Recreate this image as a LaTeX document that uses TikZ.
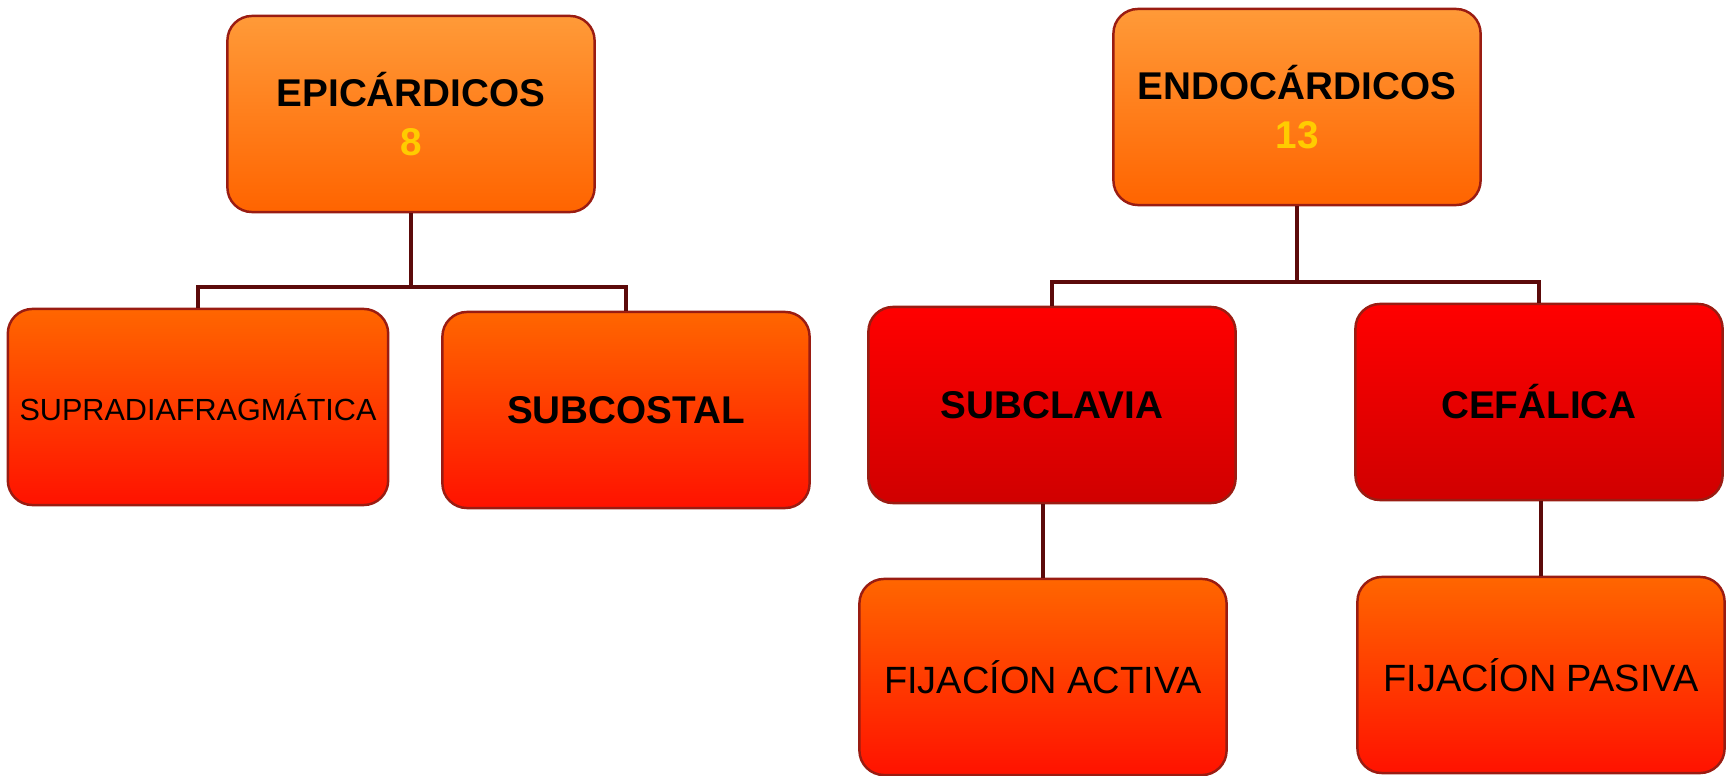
\documentclass[tikz,border=0pt]{standalone}
\usepackage{fontspec}
\setmainfont{Liberation Sans}
\usetikzlibrary{positioning, calc}

\definecolor{boxline}{HTML}{9A1C12}
\definecolor{linkcol}{HTML}{5C0A0A}
\definecolor{numcol}{HTML}{FFCC00}
\definecolor{orangeA}{HTML}{FF9A38}
\definecolor{orangeB}{HTML}{FF6400}
\definecolor{redA}{HTML}{FF0000}
\definecolor{redB}{HTML}{D00000}
\definecolor{flameA}{HTML}{FF6600}
\definecolor{flameB}{HTML}{FF1200}

\begin{document}
\begin{tikzpicture}[
  x=0.01cm, y=-0.01cm,
  font=\fontsize{11}{13.7}\selectfont\bfseries,
  box/.style={draw=boxline, line width=0.7pt, rounded corners=7pt,
              minimum width=3.67cm, minimum height=1.96cm, align=center},
  topbox/.style={box, top color=orangeA, bottom color=orangeB},
  midbox/.style={box, top color=flameA, bottom color=flameB},
  redbox/.style={box, top color=redA, bottom color=redB},
  thin/.style={font=\fontsize{10.8}{13}\selectfont\mdseries},
  link/.style={draw=linkcol, line width=1.1pt},
]
\useasboundingbox (0,0) rectangle (1733,776);

%% Epicardicos branch
\node[topbox] (epi) at (411,114) {EPICÁRDICOS\\\textcolor{numcol}{8}};
\node[midbox, font=\fontsize{8.7}{10}\selectfont\mdseries] (supra) at (198,407) {SUPRADIAFRAGMÁTICA};
\node[midbox] (subcos) at (626,410) {SUBCOSTAL};
\coordinate (epijoin) at (411,287);

\draw[link] (epi.south) -- (epijoin);
\draw[link] (supra.north) |- (epijoin) -| (subcos.north);

%% Endocardicos branch
\node[topbox] (endo) at (1297,107) {ENDOCÁRDICOS\\\textcolor{numcol}{13}};
\node[redbox] (subcl) at (1052,405) {SUBCLAVIA};
\node[redbox] (cefal) at (1539,402) {CEFÁLICA};
\coordinate (endojoin) at (1297,282);

\draw[link] (endo.south) -- (endojoin);
\draw[link] (subcl.north) |- (endojoin) -| (cefal.north);

%% Fijacion
\node[midbox, thin] (activa) at (1043,677) {FIJACÍON ACTIVA};
\node[midbox, thin] (pasiva) at (1541,675) {FIJACÍON PASIVA};

\draw[link] (activa.north) -- (activa.north |- subcl.south);
\draw[link] (pasiva.north) -- (pasiva.north |- cefal.south);

\end{tikzpicture}
\end{document}
